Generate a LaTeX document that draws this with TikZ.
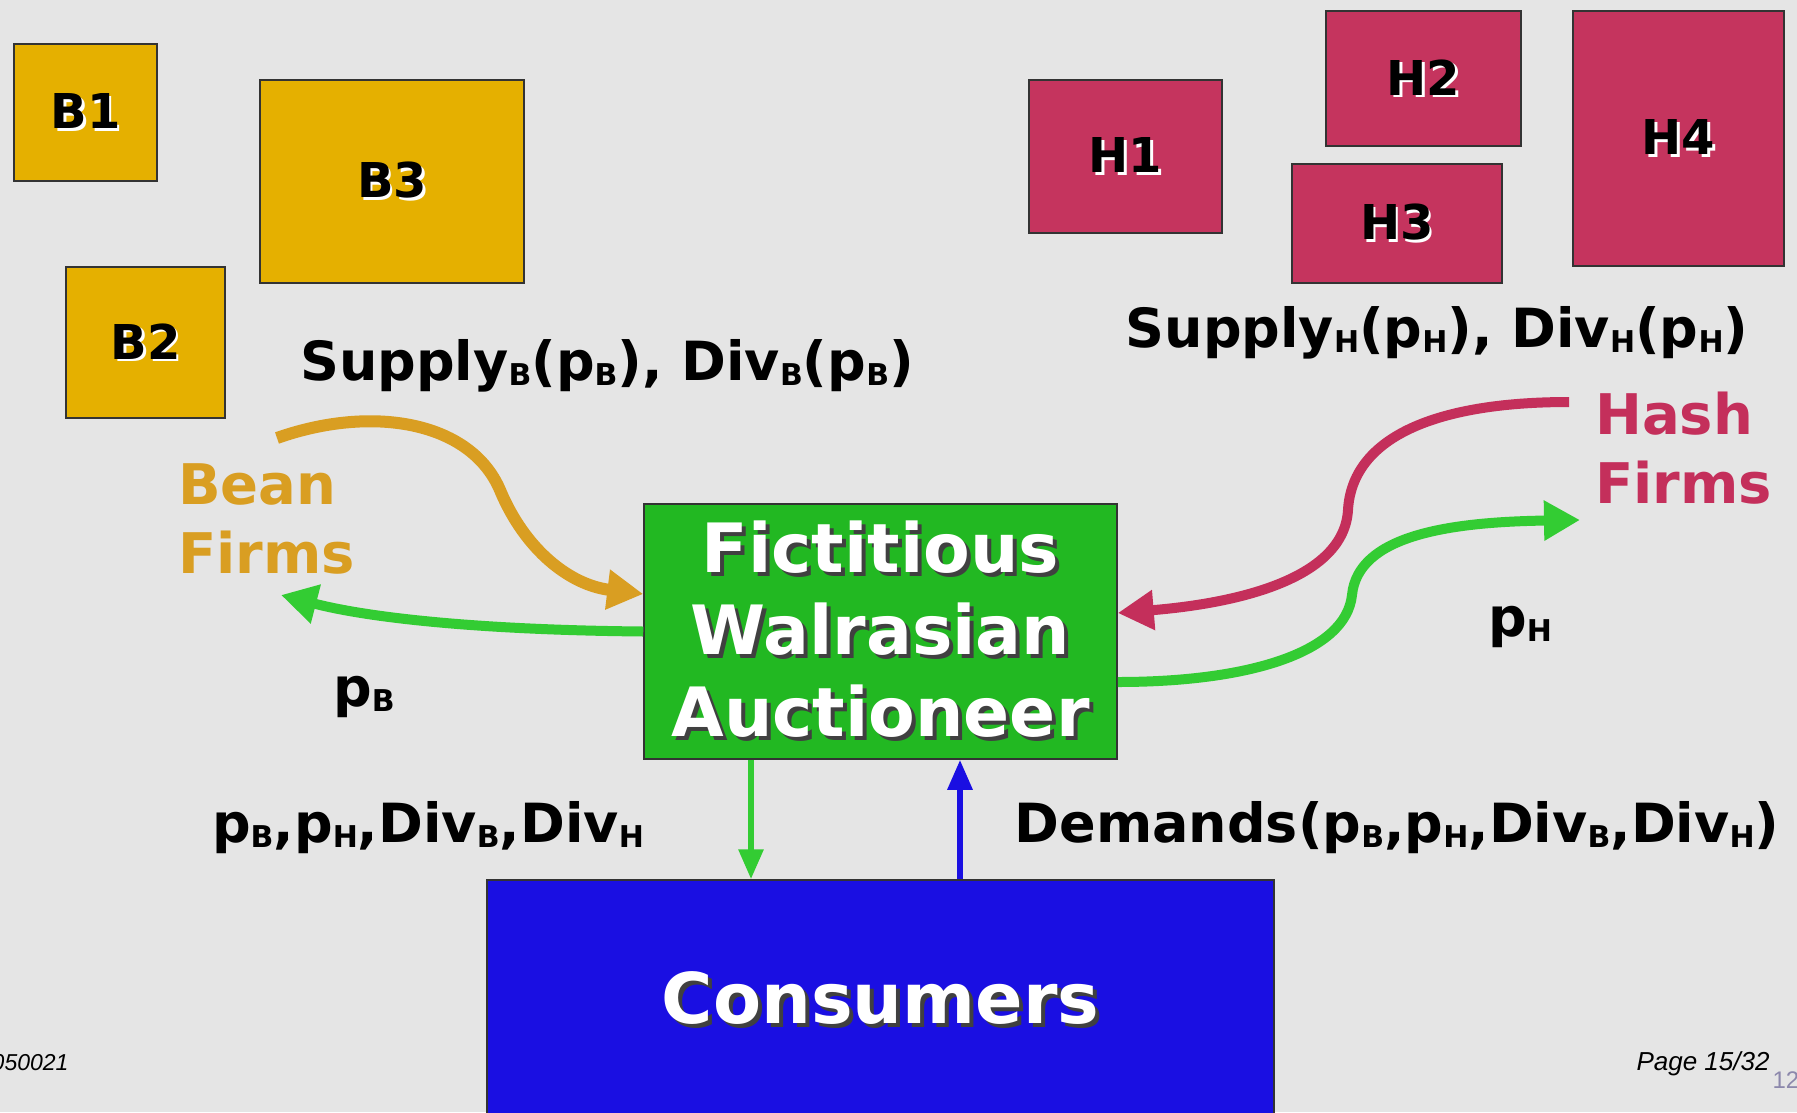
\documentclass[tikz,border=0pt]{standalone}
\usepackage{fontspec}
\setmainfont{DejaVu Sans}
\newfontfamily\footfont{Liberation Sans}
\usetikzlibrary{positioning,arrows.meta}
\definecolor{bggray}{HTML}{E5E5E5}
\definecolor{beangold}{HTML}{E5B000}
\definecolor{beantext}{HTML}{D99E22}
\definecolor{hashred}{HTML}{C5345E}
\definecolor{hashtext}{HTML}{C42F5B}
\definecolor{auctgreen}{HTML}{22B822}
\definecolor{arrgreen}{HTML}{33CC33}
\definecolor{consblue}{HTML}{1A0FE2}
\definecolor{numgray}{HTML}{8C88AC}
\newcommand\lo[1]{\raisebox{-0.1em}{\fontsize{30}{32}\selectfont #1}}
\newcommand\litshade[1]{\leavevmode\rlap{\kern2.5pt\raisebox{-2.5pt}{\color{white}#1}}#1}
\newcommand\drkshade[1]{\leavevmode\rlap{\kern4pt\raisebox{-4pt}{\color{black!75}#1}}#1}
\tikzset{
  firm/.style={draw=black!80, line width=1.5pt, inner sep=0pt, font=\fontsize{48}{56}\selectfont\bfseries},
  bean/.style={firm, fill=beangold},
  hash/.style={firm, fill=hashred},
  big/.style={draw=black!80, line width=1.5pt, inner sep=0pt, text=white, align=center, font=\fontsize{68}{82}\selectfont\bfseries},
  lbl/.style={inner sep=0pt, anchor=base, font=\fontsize{54}{62}\selectfont\bfseries},
  sector/.style={inner sep=0pt, anchor=north west, align=left, font=\fontsize{56}{69}\selectfont\bfseries},
  flow/.style={line width=10pt, -{Triangle[length=36pt,width=38pt]}},
  vflow/.style={line width=6pt, -{Triangle[length=30pt,width=24pt]}}
}

\begin{document}
\begin{tikzpicture}[x=1pt, y=-1pt]
  \fill[bggray] (0,0) rectangle (1797,1112);
  \useasboundingbox (0,0) rectangle (1797,1112);

  \node[bean, minimum width=143pt, minimum height=137pt] (b1) at (85.5,112.5) {\litshade{B1}};
  \node[bean, minimum width=159pt, minimum height=151pt] (b2) at (145.5,342.5) {\litshade{B2}};
  \node[bean, minimum width=264pt, minimum height=203pt] (b3) at (392,181.5) {\litshade{B3}};
  \node[hash, minimum width=193pt, minimum height=153pt] (h1) at (1125.5,156.5) {\litshade{H1}};
  \node[hash, minimum width=195pt, minimum height=135pt] (h2) at (1423.5,78.5) {\litshade{H2}};
  \node[hash, minimum width=210pt, minimum height=119pt] (h3) at (1397,223.5) {\litshade{H3}};
  \node[hash, minimum width=211pt, minimum height=255pt] (h4) at (1678.5,138.5) {\litshade{H4}};

  \node[lbl] (supb) at (607,380) {Supply\lo{B}(p\lo{B}), Div\lo{B}(p\lo{B})};
  \node[lbl] (suph) at (1437,347) {Supply\lo{H}(p\lo{H}), Div\lo{H}(p\lo{H})};
  \node[sector, text=beantext] (bean) at (178,463) {Bean\\Firms};
  \node[sector, text=hashtext] (hashf) at (1595,392) {Hash\\Firms};

  \node[big, fill=auctgreen, minimum width=473pt, minimum height=255pt] (wal) at (880.5,631.5)
    {\drkshade{Fictitious}\\\drkshade{Walrasian}\\\drkshade{Auctioneer}};
  \node[big, fill=consblue, minimum width=787pt, minimum height=240pt, font=\fontsize{70}{80}\selectfont\bfseries] (cons) at (880.5,1000) {\drkshade{Consumers}};

  \node[lbl] (pb) at (364,706) {p\lo{B}};
  \node[lbl] (ph) at (1520,636) {p\lo{H}};
  \node[lbl] (prices) at (428,842) {p\lo{B},p\lo{H},Div\lo{B},Div\lo{H}};
  \node[lbl] (dem) at (1397,842) {Demands(p\lo{B},p\lo{H},Div\lo{B},Div\lo{H})};

  \coordinate (bs) at (277,438);
  \coordinate (bi) at (0,594);
  \coordinate (bt) at (281,595);
  \coordinate (hs) at (1569,402);
  \coordinate (hi) at (0,613);
  \coordinate (go) at (0,682);
  \coordinate (ht) at (1580,520);
  \coordinate (dn) at (751,0);
  \coordinate (up) at (960,0);

  \draw[flow, beantext, line width=12pt] (bs) .. controls (370,405) and (470,420) .. (500,490)
    .. controls (525,550) and (570,585) .. (wal.west |- bi);
  \draw[flow, arrgreen] (wal.west) .. controls (480,630) and (370,618) .. (bt);
  \draw[flow, hashtext] (hs) .. controls (1430,402) and (1352,440) .. (1348,510)
    .. controls (1344,578) and (1240,603) .. (wal.east |- hi);
  \draw[flow, arrgreen] (wal.east |- go) .. controls (1250,682) and (1346,652) .. (1352,595)
    .. controls (1358,535) and (1450,522) .. (ht);
  \draw[vflow, arrgreen] (wal.south -| dn) -- (cons.north -| dn);
  \draw[vflow, consblue] (cons.north -| up) -- (wal.south -| up);

  \node[anchor=base east, font=\footfont\itshape\fontsize{23}{25}\selectfont] (date) at (72,1070) {050021};
  \node[anchor=base west, font=\footfont\itshape\fontsize{26}{28}\selectfont] (page) at (1633,1070) {Page 15/32};
  \node[anchor=base west, text=numgray, font=\footfont\fontsize{24}{26}\selectfont] (num) at (1769,1088) {12};
\end{tikzpicture}
\end{document}
